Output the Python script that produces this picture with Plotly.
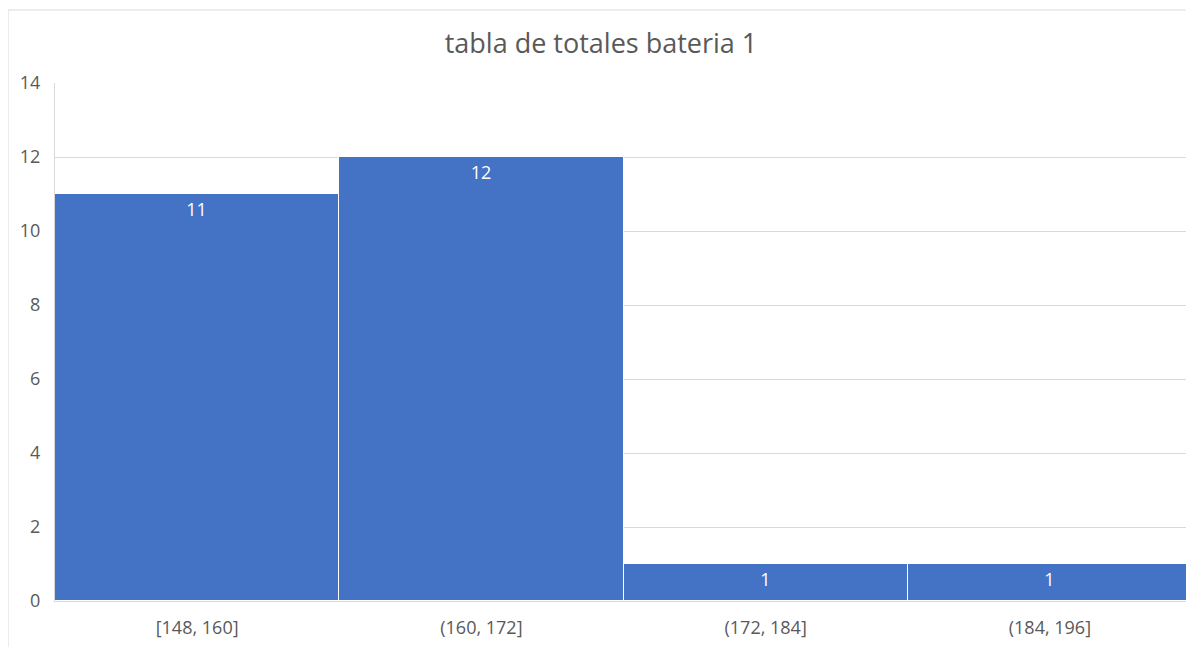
import plotly.graph_objects as go

# histogram bins and counts
bins = ["[148, 160]", "(160, 172]", "(172, 184]", "(184, 196]"]
counts = [11, 12, 1, 1]
y_ticks = [0, 2, 4, 6, 8, 10, 12, 14]

# the page body adds an 8px margin, so the figure is laid out 8px smaller
W, H = 1186, 639
L, R, T, B = 47, 2, 75, 46
pw, ph = W - L - R, H - T - B
FONT = 'Segoe UI, Open Sans, sans-serif'

fig = go.Figure()
fig.add_trace(go.Bar(
    x=bins,
    y=counts,
    text=[str(c) for c in counts],
    textposition='inside',
    insidetextanchor='end',
    constraintext='none',
    textangle=0,
    textfont=dict(color='white', size=18, family=FONT),
    marker=dict(color='#4472C4', line=dict(color='white', width=1)),
    hoverinfo='skip',
))

# outer chart border (runs off the right and bottom edges of the picture)
fig.add_shape(
    type='rect', xref='paper', yref='paper',
    x0=(0 - L) / pw, x1=(W + 20 - L) / pw,
    y0=-(H + 20 - T - ph) / ph, y1=1 + (T - 2) / ph,
    line=dict(color='#d9d9d9', width=1), fillcolor='rgba(0,0,0,0)', layer='below',
)

fig.update_layout(
    width=W, height=H,
    margin=dict(l=L, r=R, t=T, b=B),
    paper_bgcolor='white', plot_bgcolor='white',
    showlegend=False,
    bargap=0,
    title=dict(
        text='tabla de totales bateria 1',
        x=0.5, xanchor='center', y=1 - 36 / H, yanchor='middle',
        font=dict(size=27, color='#595959', family=FONT),
    ),
    font=dict(family=FONT, color='#595959', size=18),
    xaxis=dict(
        showgrid=False, zeroline=False, showline=True, linecolor='#d9d9d9',
        ticks='', ticklabelstandoff=10, tickfont=dict(size=18, color='#595959'),
    ),
    yaxis=dict(
        range=[0, 14], tickvals=y_ticks, showgrid=True, gridcolor='#d9d9d9',
        zeroline=False, showline=True, linecolor='#d9d9d9', ticks='',
        ticklabelstandoff=10, tickfont=dict(size=18, color='#595959'),
    ),
)

fig.write_html("out.html")
